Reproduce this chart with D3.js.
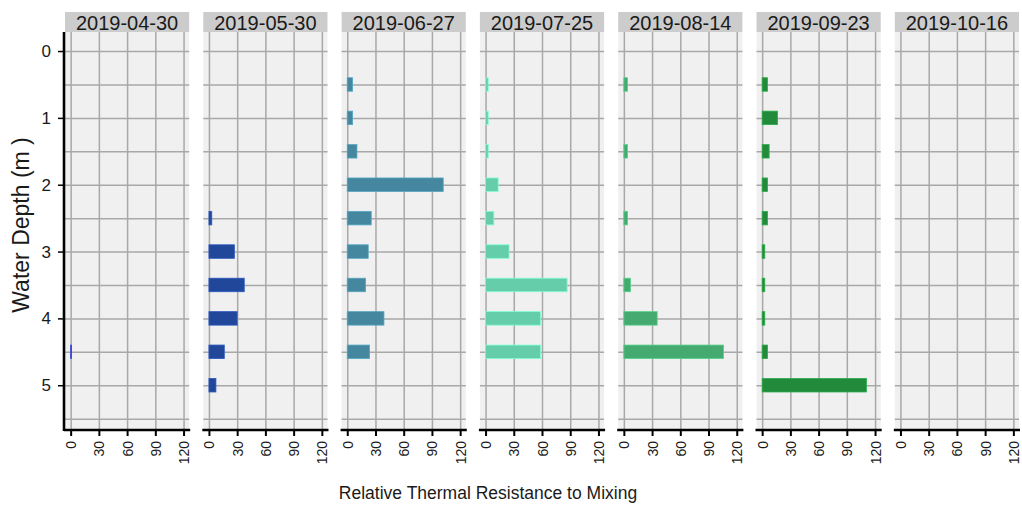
<!DOCTYPE html>
<html>
<head>
<meta charset="utf-8">
<script src="https://cdn.jsdelivr.net/npm/d3@7"></script>
<style>
  body { margin: 0; background: #fff; }
  svg { display: block; font-family: "Liberation Sans", Arial, sans-serif; }
  .grid line { stroke: #a8a8a8; stroke-width: 1.5; }
  .grid path { display: none; }
</style>
</head>
<body>
<script>
var width = 1022;
var height = 506;

// sampling dates (one panel each)
var dates = ["2019-04-30", "2019-05-30", "2019-06-27", "2019-07-25", "2019-08-14", "2019-09-23", "2019-10-16"];
var colors = ["#2a35b8", "#21479a", "#44879e", "#66cdaa", "#45aa6f", "#228b3b", "#228b3b"];

// depths in metres
var depths = [0.5, 1, 1.5, 2, 2.5, 3, 3.5, 4, 4.5, 5];

// relative thermal resistance to mixing, one value per depth
var rtrm0430 = [0, 0, 0, 0, 0, 0, 0, 0, 1, 0];
var rtrm0530 = [0, 0, 0, 0, 3, 27, 37.5, 30, 16.3, 7.4];
var rtrm0627 = [5.7, 5.7, 10.3, 102, 25.5, 22.3, 19.5, 39, 23.7, 0];
var rtrm0725 = [2.8, 2.8, 2.8, 13.4, 8.8, 25, 86.7, 58.4, 58.4, 0];
var rtrm0814 = [3.9, 0, 3.9, 0, 3.9, 0, 7, 35.4, 106, 0];
var rtrm0923 = [5.7, 16.3, 7.4, 5.7, 5.7, 2.8, 2.8, 2.8, 5.7, 110.8];
var rtrm1016 = [0, 0, 0, 0, 0, 0, 0, 0, 0, 0];
var series = [rtrm0430, rtrm0530, rtrm0627, rtrm0725, rtrm0814, rtrm0923, rtrm1016];

var xTicks = [0, 30, 60, 90, 120];
var yTicks = [0, 1, 2, 3, 4, 5];
var yGrid = [0, 0.5, 1, 1.5, 2, 2.5, 3, 3.5, 4, 4.5, 5, 5.5];

var plotTop = 32;
var plotBottom = 430;

var svg = d3.select("body")
    .append("svg")
    .attr("width", width)
    .attr("height", height);

var panel = d3.scaleBand()
    .domain(dates)
    .range([65, 1019])
    .paddingInner(0.102);

var pw = panel.bandwidth();

var xScale = d3.scaleLinear()
    .domain([-6, 126])
    .range([0, pw]);

var yScale = d3.scaleLinear()
    .domain([-0.285, 5.67])
    .range([plotTop, plotBottom]);

var barH = 13.5;

dates.forEach(function (d, i) {
    var g = svg.append("g")
        .attr("transform", "translate(" + panel(d) + ",0)");

    g.append("rect")
        .attr("x", 0)
        .attr("y", plotTop)
        .attr("width", pw)
        .attr("height", plotBottom - plotTop)
        .attr("fill", "#f0f0f0");

    // strip header
    g.append("rect")
        .attr("x", 0)
        .attr("y", 12)
        .attr("width", pw)
        .attr("height", plotTop - 12)
        .attr("fill", "#cccccc");

    g.append("text")
        .attr("x", pw / 2)
        .attr("y", 29.5)
        .attr("text-anchor", "middle")
        .attr("font-size", "20px")
        .attr("fill", "#1a1a1a")
        .text(d);

    // gridlines
    g.append("g")
        .attr("class", "grid")
        .attr("transform", "translate(0," + plotBottom + ")")
        .call(d3.axisBottom(xScale)
            .tickValues(xTicks)
            .tickSize(-(plotBottom - plotTop))
            .tickFormat(""));

    g.append("g")
        .attr("class", "grid")
        .call(d3.axisLeft(yScale)
            .tickValues(yGrid)
            .tickSize(-pw)
            .tickFormat(""));

    // bars
    var vals = series[i].map(function (v, j) {
        return { depth: depths[j], value: v };
    }).filter(function (b) { return b.value > 0; });

    g.selectAll(".bar")
        .data(vals)
        .enter()
        .append("rect")
        .attr("class", "bar")
        .attr("x", xScale(0))
        .attr("y", function (b) { return yScale(b.depth) - barH / 2; })
        .attr("width", function (b) { return xScale(b.value) - xScale(0); })
        .attr("height", barH)
        .attr("fill", colors[i])
        .attr("stroke", d3.color(colors[i]).brighter(0.6))
        .attr("stroke-width", 0.8);

    // bottom axis
    var xa = g.append("g")
        .attr("transform", "translate(0," + plotBottom + ")")
        .call(d3.axisBottom(xScale)
            .tickValues(xTicks)
            .tickSize(6)
            .tickSizeOuter(0));

    xa.select(".domain")
        .attr("d", "M-1,0H" + (pw + 1))
        .attr("stroke", "#000")
        .attr("stroke-width", 2.6);

    xa.selectAll(".tick line")
        .attr("stroke", "#000")
        .attr("stroke-width", 2);

    xa.selectAll(".tick text")
        .attr("transform", "rotate(-90)")
        .attr("x", -11)
        .attr("y", 0)
        .attr("dy", "0.36em")
        .attr("text-anchor", "end")
        .attr("font-size", "14px")
        .attr("font-family", "Liberation Sans, Arial, sans-serif")
        .attr("fill", "#1a1a1a");
});

// left axis
var ya = svg.append("g")
    .attr("transform", "translate(64,0)")
    .call(d3.axisLeft(yScale)
        .tickValues(yTicks)
        .tickFormat(d3.format("d"))
        .tickSize(6)
        .tickSizeOuter(0));

ya.select(".domain")
    .attr("d", "M0," + plotTop + "V" + (plotBottom + 1))
    .attr("stroke", "#000")
    .attr("stroke-width", 2.6);

ya.selectAll(".tick line")
    .attr("stroke", "#000")
    .attr("stroke-width", 1.5);

ya.selectAll(".tick text")
    .attr("x", -13)
    .attr("font-size", "17px")
    .attr("font-family", "Liberation Sans, Arial, sans-serif")
    .attr("fill", "#1a1a1a");

// axis titles
svg.append("text")
    .attr("transform", "translate(29,225) rotate(-90)")
    .attr("text-anchor", "middle")
    .attr("font-size", "23px")
    .attr("fill", "#1a1a1a")
    .text("Water Depth (m )");

svg.append("text")
    .attr("x", 488)
    .attr("y", 499)
    .attr("text-anchor", "middle")
    .attr("font-size", "17.5px")
    .attr("fill", "#1a1a1a")
    .text("Relative Thermal Resistance to Mixing");
</script>
</body>
</html>
